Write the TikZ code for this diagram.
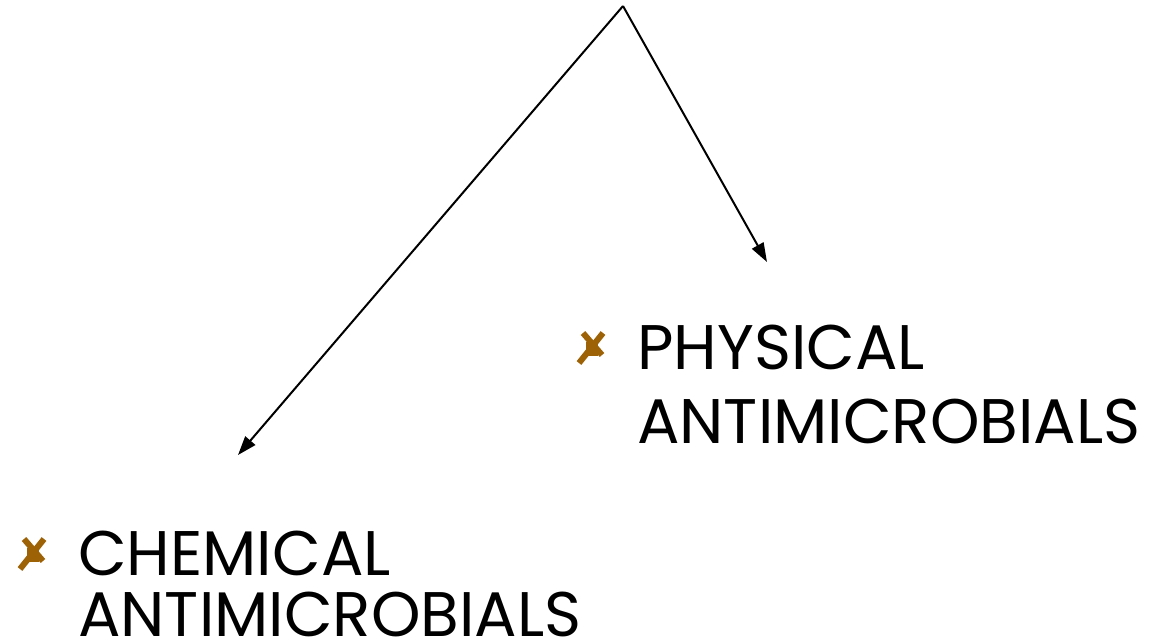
\documentclass[tikz,border=0pt]{standalone}
\usepackage{fontspec}
\setmainfont{Poppins}
\usetikzlibrary{arrows.meta}
\definecolor{bulletc}{RGB}{158,98,6}
\tikzset{
  conn/.style={draw=black, line width=2pt, -{Triangle[length=19pt,width=13pt]}},
  label/.style={anchor=base west, inner sep=0pt, font=\fontsize{63}{73}\selectfont},
  xbullet/.pic={
    \draw[bulletc, line width=6pt] (-9,15) -- (10,-7);
    \draw[bulletc, line width=6pt] (11,15) -- (-13,-15);
    \fill[bulletc] (-6,6) rectangle (6,-8);
  }
}
\begin{document}
\begin{tikzpicture}[x=1pt,y=1pt]
\useasboundingbox (0,0) rectangle (1152,-641);
\coordinate (apex) at (623,-6);
\coordinate (rtip) at (767,-262);
\coordinate (ltip) at (238,-455);
\draw[conn] (apex) -- (rtip);
\draw[conn] (apex) -- (ltip);
\pic at (592,-348) {xbullet};
\node[label] (phys1) at (637,-369) {PHYSICAL};
\node[label] (phys2) at (637,-443) {ANTIMICROBIALS};
\pic at (33,-554) {xbullet};
\node[label] (chem1) at (78,-575) {CHEMICAL};
\node[label] (chem2) at (78,-636) {ANTIMICROBIALS};
\end{tikzpicture}
\end{document}
